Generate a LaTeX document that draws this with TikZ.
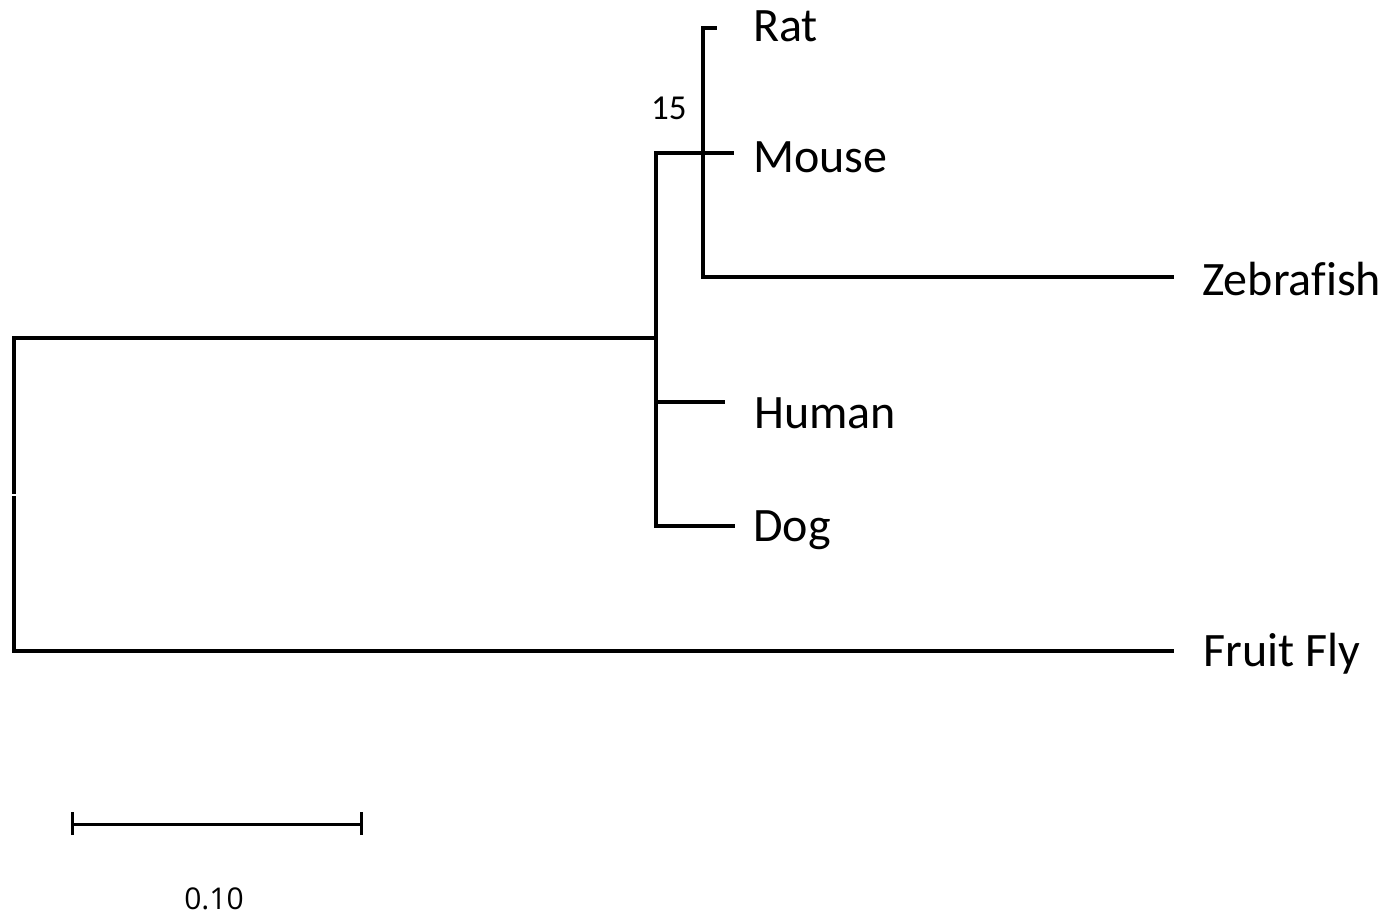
\documentclass[tikz,border=0pt]{standalone}
\usepackage{fontspec}
\setmainfont{Carlito}[Ligatures=NoCommon]
\newfontfamily\scalefont{Open Sans}
\begin{document}
\begin{tikzpicture}[x=1pt,y=-1pt,
  branch/.style={line width=3.2pt, line cap=rect, black},
  taxon/.style={anchor=base west, inner sep=0pt, font=\fontsize{48}{52}\selectfont},
  support/.style={anchor=base west, inner sep=0pt, font=\fontsize{35}{38}\selectfont},
  scalelabel/.style={anchor=base, inner sep=0pt, font=\scalefont\fontsize{30}{34}\selectfont}]
\useasboundingbox (0,0) rectangle (1383,915);
% junction coordinates
\coordinate (rootT) at (14,338);
\coordinate (rootG1) at (14,492);
\coordinate (rootG2) at (14,498);
\coordinate (rootB) at (14,651);
\coordinate (mamT) at (656,153);
\coordinate (mamM) at (656,338);
\coordinate (mamH) at (656,402);
\coordinate (mamB) at (656,526);
\coordinate (rodT) at (703,28);
\coordinate (rodB) at (703,277);
\coordinate (ratE) at (715,28);
\coordinate (mouseE) at (732,153);
\coordinate (zebE) at (1172,277);
\coordinate (humE) at (723,402);
\coordinate (dogE) at (733,526);
\coordinate (flyE) at (1172,651);
\coordinate (sbL) at (72,824);
\coordinate (sbR) at (361,824);
% labels
\node[taxon] (rat) at (753,42) {Rat};
\node[taxon] (mouse) at (753,172) {Mouse};
\node[taxon] (zeb) at (1202,295) {Zebrafish};
\node[taxon] (human) at (754,428) {Human};
\node[taxon] (dog) at (753,541) {Dog};
\node[taxon] (fly) at (1203,666) {Fruit Fly};
\node[support] (bs) at (651,120) {15};
\node[scalelabel] (sl) at (214,909) {0.10};
% branches
\draw[branch] (rootG1) -- (rootT) -- (mamM);
\draw[branch] (rootG2) -- (rootB) -- (flyE);
\draw[branch] (mamT) -- (mamB) -- (dogE);
\draw[branch] (mamT) -- (mouseE);
\draw[branch] (mamH) -- (humE);
\draw[branch] (ratE) -- (rodT) -- (rodB) -- (zebE);
% scale bar
\draw[line width=3pt] (sbL) -- (sbR);
\draw[line width=3pt] ([yshift=-11]sbL) -- ([yshift=12]sbL);
\draw[line width=3pt] ([yshift=-11]sbR) -- ([yshift=12]sbR);
\end{tikzpicture}
\end{document}
